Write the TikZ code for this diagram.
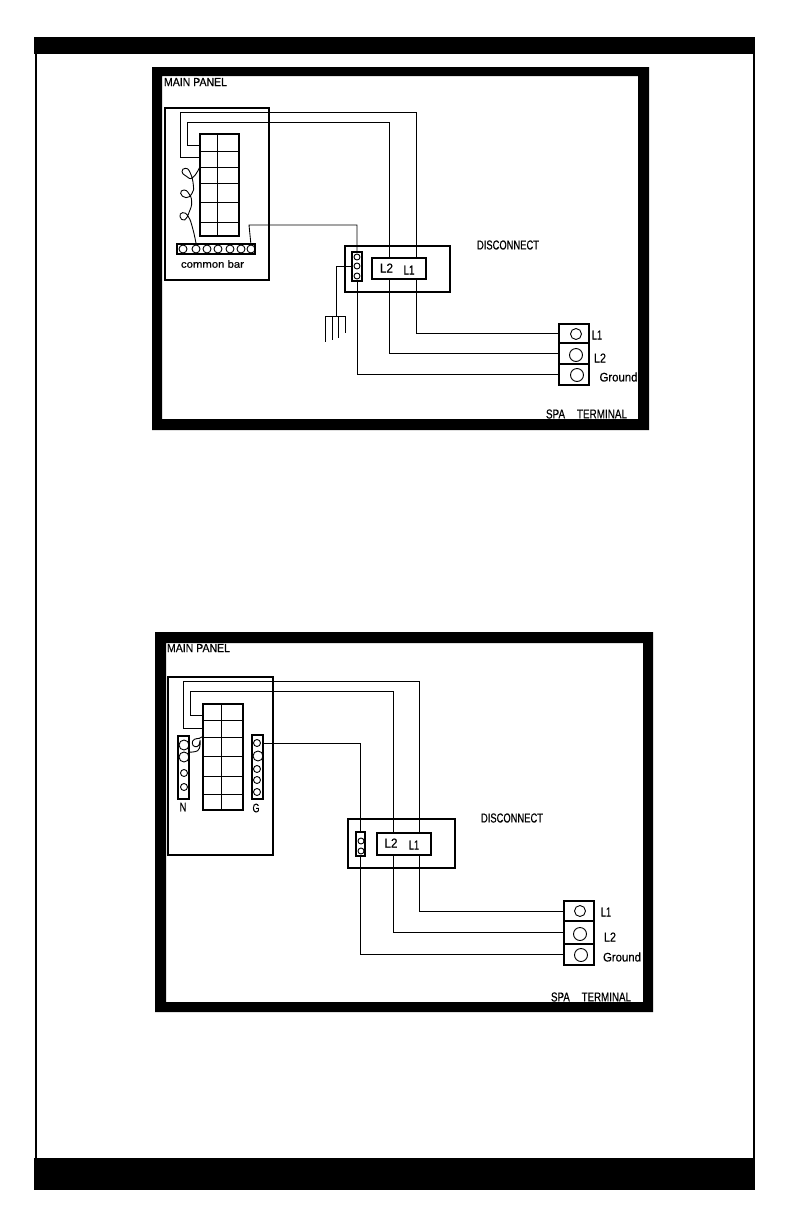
\documentclass[tikz,border=0pt]{standalone}
\usepackage{fontspec}
\setmainfont[FakeBold=0.5]{Liberation Sans}
\tikzset{
  wire/.style={line width=0.85pt,line join=miter},
  thin wire/.style={line width=0.7pt},
  panelbox/.style={draw,line width=1.4pt,inner sep=0,outer sep=0,fill=none},
  partbox/.style={draw,line width=1.2pt,inner sep=0,outer sep=0},
  cellbox/.style={draw,line width=1.1pt,inner sep=0,outer sep=0},
  gridline/.style={line width=0.9pt},
  lug/.style={circle,draw,line width=0.9pt,inner sep=0,outer sep=0},
  frameblack/.style={fill=black,draw=none},
  lab/.style={inner sep=0,outer sep=0}
}
% name, x1, y1, x2, y2, style
\newcommand{\bx}[6]{%
  \pgfmathsetmacro{\bw}{#4-#2}\pgfmathsetmacro{\bh}{#5-#3}%
  \pgfmathsetmacro{\bcx}{(#2+#4)/2}\pgfmathsetmacro{\bcy}{(#3+#5)/2}%
  \node[#6,minimum width=\bw pt,minimum height=\bh pt] (#1) at (\bcx,\bcy) {};}
% name, centre x, centre y, radius
\newcommand{\lugn}[4]{%
  \pgfmathsetmacro{\bd}{2*#4}%
  \node[lug,minimum size=\bd pt] (#1) at (#2,#3) {};}
% name, centre x, centre y, width, height, text
\newcommand{\tx}[6]{\node[lab] (#1) at (#2,#3) {\resizebox{#4pt}{#5pt}{#6}};}
\begin{document}
\begin{tikzpicture}[x=1pt,y=-1pt]
\useasboundingbox (0,0) rectangle (792,1224);
% page frame
\fill[frameblack] (34,37) rectangle (755,54);
\fill[frameblack] (34,1158) rectangle (755,1190);
\fill[frameblack] (35,54) rectangle (37,1158);
\fill[frameblack] (753,54) rectangle (755,1158);
% ===== upper diagram =====
\fill[frameblack,even odd rule] (152,67) rectangle (649,430) (162,76) rectangle (638,419);
\tx{mp1}{195.5}{82}{63}{8}{MAIN PANEL}
\bx{panA}{165}{108}{269}{280}{panelbox}
\bx{brkA}{200}{134}{239}{236}{cellbox}
\foreach \r in {151,167,183,202,222} \draw[gridline] (200,\r) -- (239,\r);
\draw[gridline] (217.5,134) -- (217.5,236);
\bx{barA}{177}{244}{255}{254}{partbox}
\foreach \n/\cx in {1/183,2/196,3/207,4/218,5/230,6/241,7/251} {\lugn{ca\n}{\cx}{249}{4}}
\tx{cb}{212.5}{264}{63}{7.5}{common bar}
\bx{discA}{345}{246}{450}{292}{partbox}
\bx{swA}{372}{258}{426}{279}{partbox}
\tx{swAl2}{386.5}{268}{13}{9}{L2}
\tx{swAl1}{409}{270}{11}{9}{L1}
\bx{gstripA}{352}{252}{362}{281}{partbox}
\lugn{ga1}{357}{257}{3}\lugn{ga2}{357}{266}{3}\lugn{ga3}{357}{276}{3}
\tx{dA}{508}{245}{62}{9}{DISCONNECT}
\bx{tA1}{559}{324}{589}{343}{partbox}
\bx{tA2}{559}{343}{589}{364}{partbox}
\bx{tA3}{559}{364}{589}{385}{partbox}
\lugn{la1}{576}{334}{5.5}\lugn{la2}{576}{355}{6.5}\lugn{la3}{577}{375}{6.5}
\tx{tlA1}{597}{335}{10}{9}{L1}
\tx{tlA2}{600}{358}{12}{9}{L2}
\tx{tlA3}{618.5}{377}{38}{9}{Ground}
\tx{sA}{586.5}{414}{81}{9}{SPA\hspace{1.2em}TERMINAL}
% wires
\coordinate (bA1) at (200,157);
\coordinate (bA2) at (200,145);
\coordinate (swA1t) at (416,258);
\coordinate (swA2t) at (389,258);
\coordinate (swA1b) at (416,279);
\coordinate (swA2b) at (389,279);
\draw[wire] (bA1) -| (180,112) -| (swA1t);
\draw[wire] (bA2) -| (187,122) -| (swA2t);
\draw[wire] (swA1b) |- (tA1.west);
\draw[wire] (swA2b) |- (tA2.west);
\draw[wire] (ca7.north) -- (249,225) -| (gstripA.north);
\draw[wire] (gstripA.south) |- (tA3.west);
% grounding rod
\coordinate (rodA) at (336,316);
\draw[wire] (ga2.west -| gstripA.west) -| (rodA);
\draw[thin wire] (325,316) -- (345,316);
\draw[thin wire] (325,316) -- (325,342);
\draw[thin wire] (332,316) -- (332,340);
\draw[thin wire] (338,316) -- (338,338);
\draw[thin wire] (345,316) -- (345,333);
% pigtail
\begin{scope}[shift={(150,65)},scale=0.3333]
\draw[line width=0.9pt] plot[smooth,tension=0.9] coordinates {(150,305)(128,338)(108,333)(96,320)(106,310)(120,322)(130,360)(126,385)(108,398)(92,385)(102,375)(116,385)(125,410)(118,440)(104,465)(90,455)(98,443)(115,455)(128,490)(138,535)};
\end{scope}
% ===== lower diagram =====
\fill[frameblack,even odd rule] (155,632) rectangle (653,1012) (166,643) rectangle (643,1002);
\tx{mp2}{198.5}{648}{63}{8}{MAIN PANEL}
\bx{panB}{168}{677}{273}{855}{panelbox}
\bx{brkB}{203}{704}{243}{810}{cellbox}
\foreach \r in {720,737,756,776,794} \draw[gridline] (203,\r) -- (243,\r);
\draw[gridline] (221,704) -- (221,810);
\bx{barN}{178}{736}{189}{799}{partbox}
\lugn{n1}{184}{745}{5}\lugn{n2}{184}{757}{5}\lugn{n3}{184}{773}{3.5}\lugn{n4}{184}{787}{3.5}
\tx{nl}{183}{807}{7}{8.5}{N}
\bx{barG}{252}{735}{263}{799}{partbox}
\lugn{g1}{257}{743}{3.5}\lugn{g2}{258}{756}{5}\lugn{g3}{257}{769}{3.5}\lugn{g4}{257}{780}{3.5}\lugn{g5}{257}{792}{3.5}
\tx{gl}{256}{808}{7}{8.5}{G}
\bx{discB}{348}{819}{455}{868}{partbox}
\bx{swB}{377}{833}{431}{855}{partbox}
\tx{swBl2}{391}{843}{13}{9}{L2}
\tx{swBl1}{414}{845}{10}{9}{L1}
\bx{gstripB}{356}{832}{365}{856}{partbox}
\lugn{gb1}{361}{841}{3}\lugn{gb2}{361}{851}{3}
\tx{dB}{512}{818}{62}{9}{DISCONNECT}
\bx{tB1}{564}{901}{594}{921}{partbox}
\bx{tB2}{564}{921}{594}{944}{partbox}
\bx{tB3}{564}{944}{594}{965}{partbox}
\lugn{lb1}{580}{911}{5.5}\lugn{lb2}{580}{934}{6.5}\lugn{lb3}{581}{955}{6.5}
\tx{tlB1}{606}{912}{10}{9}{L1}
\tx{tlB2}{610}{937}{12}{9}{L2}
\tx{tlB3}{622}{957}{38}{9}{Ground}
\tx{sB}{591}{997}{80}{9}{SPA\hspace{1.2em}TERMINAL}
\coordinate (bB1) at (203,728);
\coordinate (bB2) at (203,715);
\coordinate (swB1t) at (419,833);
\coordinate (swB2t) at (393,833);
\coordinate (swB1b) at (419,855);
\coordinate (swB2b) at (393,855);
\draw[wire] (bB1) -| (183,681) -| (swB1t);
\draw[wire] (bB2) -| (190,691) -| (swB2t);
\draw[wire] (swB1b) |- (tB1.west);
\draw[wire] (swB2b) |- (tB2.west);
\draw[wire] (g1.east -| barG.east) -| (gstripB.north);
\draw[wire] (gstripB.south) |- (tB3.west);
% neutral pigtail
\begin{scope}[shift={(150,630)},scale=0.3333]
\draw[line width=0.9pt] plot[smooth,tension=0.9] coordinates {(160,318)(148,325)(133,328)(127,340)(135,350)(147,345)(150,330)(148,355)(135,365)(118,366)};
\end{scope}
\end{tikzpicture}
\end{document}
